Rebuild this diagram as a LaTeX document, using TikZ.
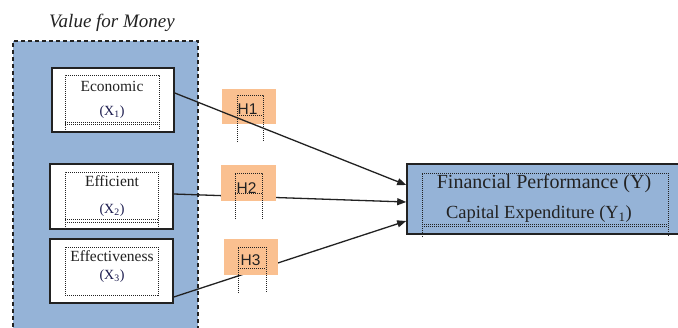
\documentclass[tikz,border=0pt]{standalone}
\usepackage{fontspec}
\setmainfont{Liberation Serif}[ItalicFont={Liberation Serif Italic}]
\newfontfamily\titlefont{Liberation Serif Italic}
\newfontfamily\hfont{Liberation Sans}
\usetikzlibrary{calc,arrows.meta}
\definecolor{vfblue}{HTML}{95B3D7}
\definecolor{horange}{HTML}{FAC090}
\definecolor{edgec}{HTML}{222222}
\begin{document}
\begin{tikzpicture}[x=1pt,y=-1pt,
  varbox/.style={draw=edgec,line width=1.6pt,fill=white,minimum width=122pt,minimum height=64pt,inner sep=0pt},
  hbox/.style={fill=horange,minimum width=54pt,minimum height=35pt,inner sep=0pt},
  dotline/.style={line width=1pt,dash pattern=on 1pt off 1pt,draw=edgec},
  conn/.style={line width=1.3pt,draw=edgec,-{Triangle[length=9pt,width=7pt]}},
  vartext/.style={font=\fontsize{15.5}{17}\selectfont,text=edgec,inner sep=0pt},
  subtext/.style={font=\fontsize{14}{16}\selectfont,text=edgec!80!blue,inner sep=0pt},
  htext/.style={font=\hfont\fontsize{15.5}{17}\selectfont,text=edgec,inner sep=0pt}]
\clip (0,0) rectangle (678,327);
\fill[white] (0,0) rectangle (678,327);
% outer group
\node[draw=edgec,line width=1.5pt,dash pattern=on 4pt off 3pt,fill=vfblue,
  minimum width=185pt,minimum height=300pt,inner sep=0pt,anchor=north west] (vfm) at (12,40) {};
\node[font=\titlefont\fontsize{19}{21}\selectfont,text=edgec,inner sep=0pt] (title) at (112,23) {Value for Money};
% variable boxes
\node[varbox] (eco) at (113,100) {};
\node[varbox,minimum width=123pt,minimum height=65pt] (eff) at (111.5,196.5) {};
\node[varbox,minimum width=123pt] (efv) at (111.5,271) {};
% target box
\node[draw=edgec,line width=1.6pt,fill=vfblue,minimum width=293pt,minimum height=70pt,inner sep=0pt] (fp) at (553.5,199) {};
% connectors hidden by hypothesis boxes
\draw[conn] ($(eff.east)+(0,-2.5)$) -- ($(fp.west)+(0,3)$);
\draw[conn] ($(efv.east)+(0,26)$) -- ($(fp.west)+(0,22)$);
% hypothesis boxes
\node[hbox] (h1) at (249,106) {};
\node[hbox,minimum width=55pt,minimum height=36pt] (h2) at (248.5,183) {};
\node[hbox,minimum height=36pt] (h3) at (251,257) {};
\draw[conn] ($(eco.east)+(0,-7)$) -- ($(fp.west)+(0,-14)$);
% dotted text frames
\draw[dotline] (65,130) -- (65,75) -- (159,75) -- (159,130);
\draw[dotline] (65,122) -- (159,122) (65,124.5) -- (159,124.5);
\draw[dotline] (65,227) -- (65,172) -- (158,172) -- (158,227);
\draw[dotline] (65,219.5) -- (158,219.5) (65,222) -- (158,222);
\draw[dotline] (65,247) rectangle (158,295);
\draw[dotline] (422,237) -- (422,173) -- (668,173) -- (668,237);
\draw[dotline] (422,224) -- (668,224) (422,226.5) -- (668,226.5);
\draw[dotline] (237,142) -- (237,95) -- (263,95) -- (263,142) (237,115) -- (263,115);
\draw[dotline] (235,219) -- (235,173) -- (262,173) -- (262,219) (235,193) -- (262,193);
\draw[dotline] (238,293) -- (238,247) -- (266,247) -- (266,293) (238,268) -- (266,268);
% texts
\node[vartext] (t1) at (112,86) {Economic};
\node[subtext] (s1) at (112,112) {(X\textsubscript{1})};
\node[vartext] (t2) at (112,181) {Efficient};
\node[subtext] (s2) at (112,210) {(X\textsubscript{2})};
\node[vartext] (t3) at (112,256) {Effectiveness};
\node[subtext] (s3) at (112,276) {(X\textsubscript{3})};
\node[htext] (l1) at (247.5,109) {H1};
\node[htext] (l2) at (246.5,188) {H2};
\node[htext] (l3) at (250.5,260) {H3};
\node[font=\fontsize{20}{22}\selectfont,text=edgec,inner sep=0pt] (fin) at (544,184) {Financial Performance (Y)};
\node[font=\fontsize{18.5}{20}\selectfont,text=edgec,inner sep=0pt] (cap) at (539,214) {Capital Expenditure (Y\textsubscript{1})};
\end{tikzpicture}
\end{document}
